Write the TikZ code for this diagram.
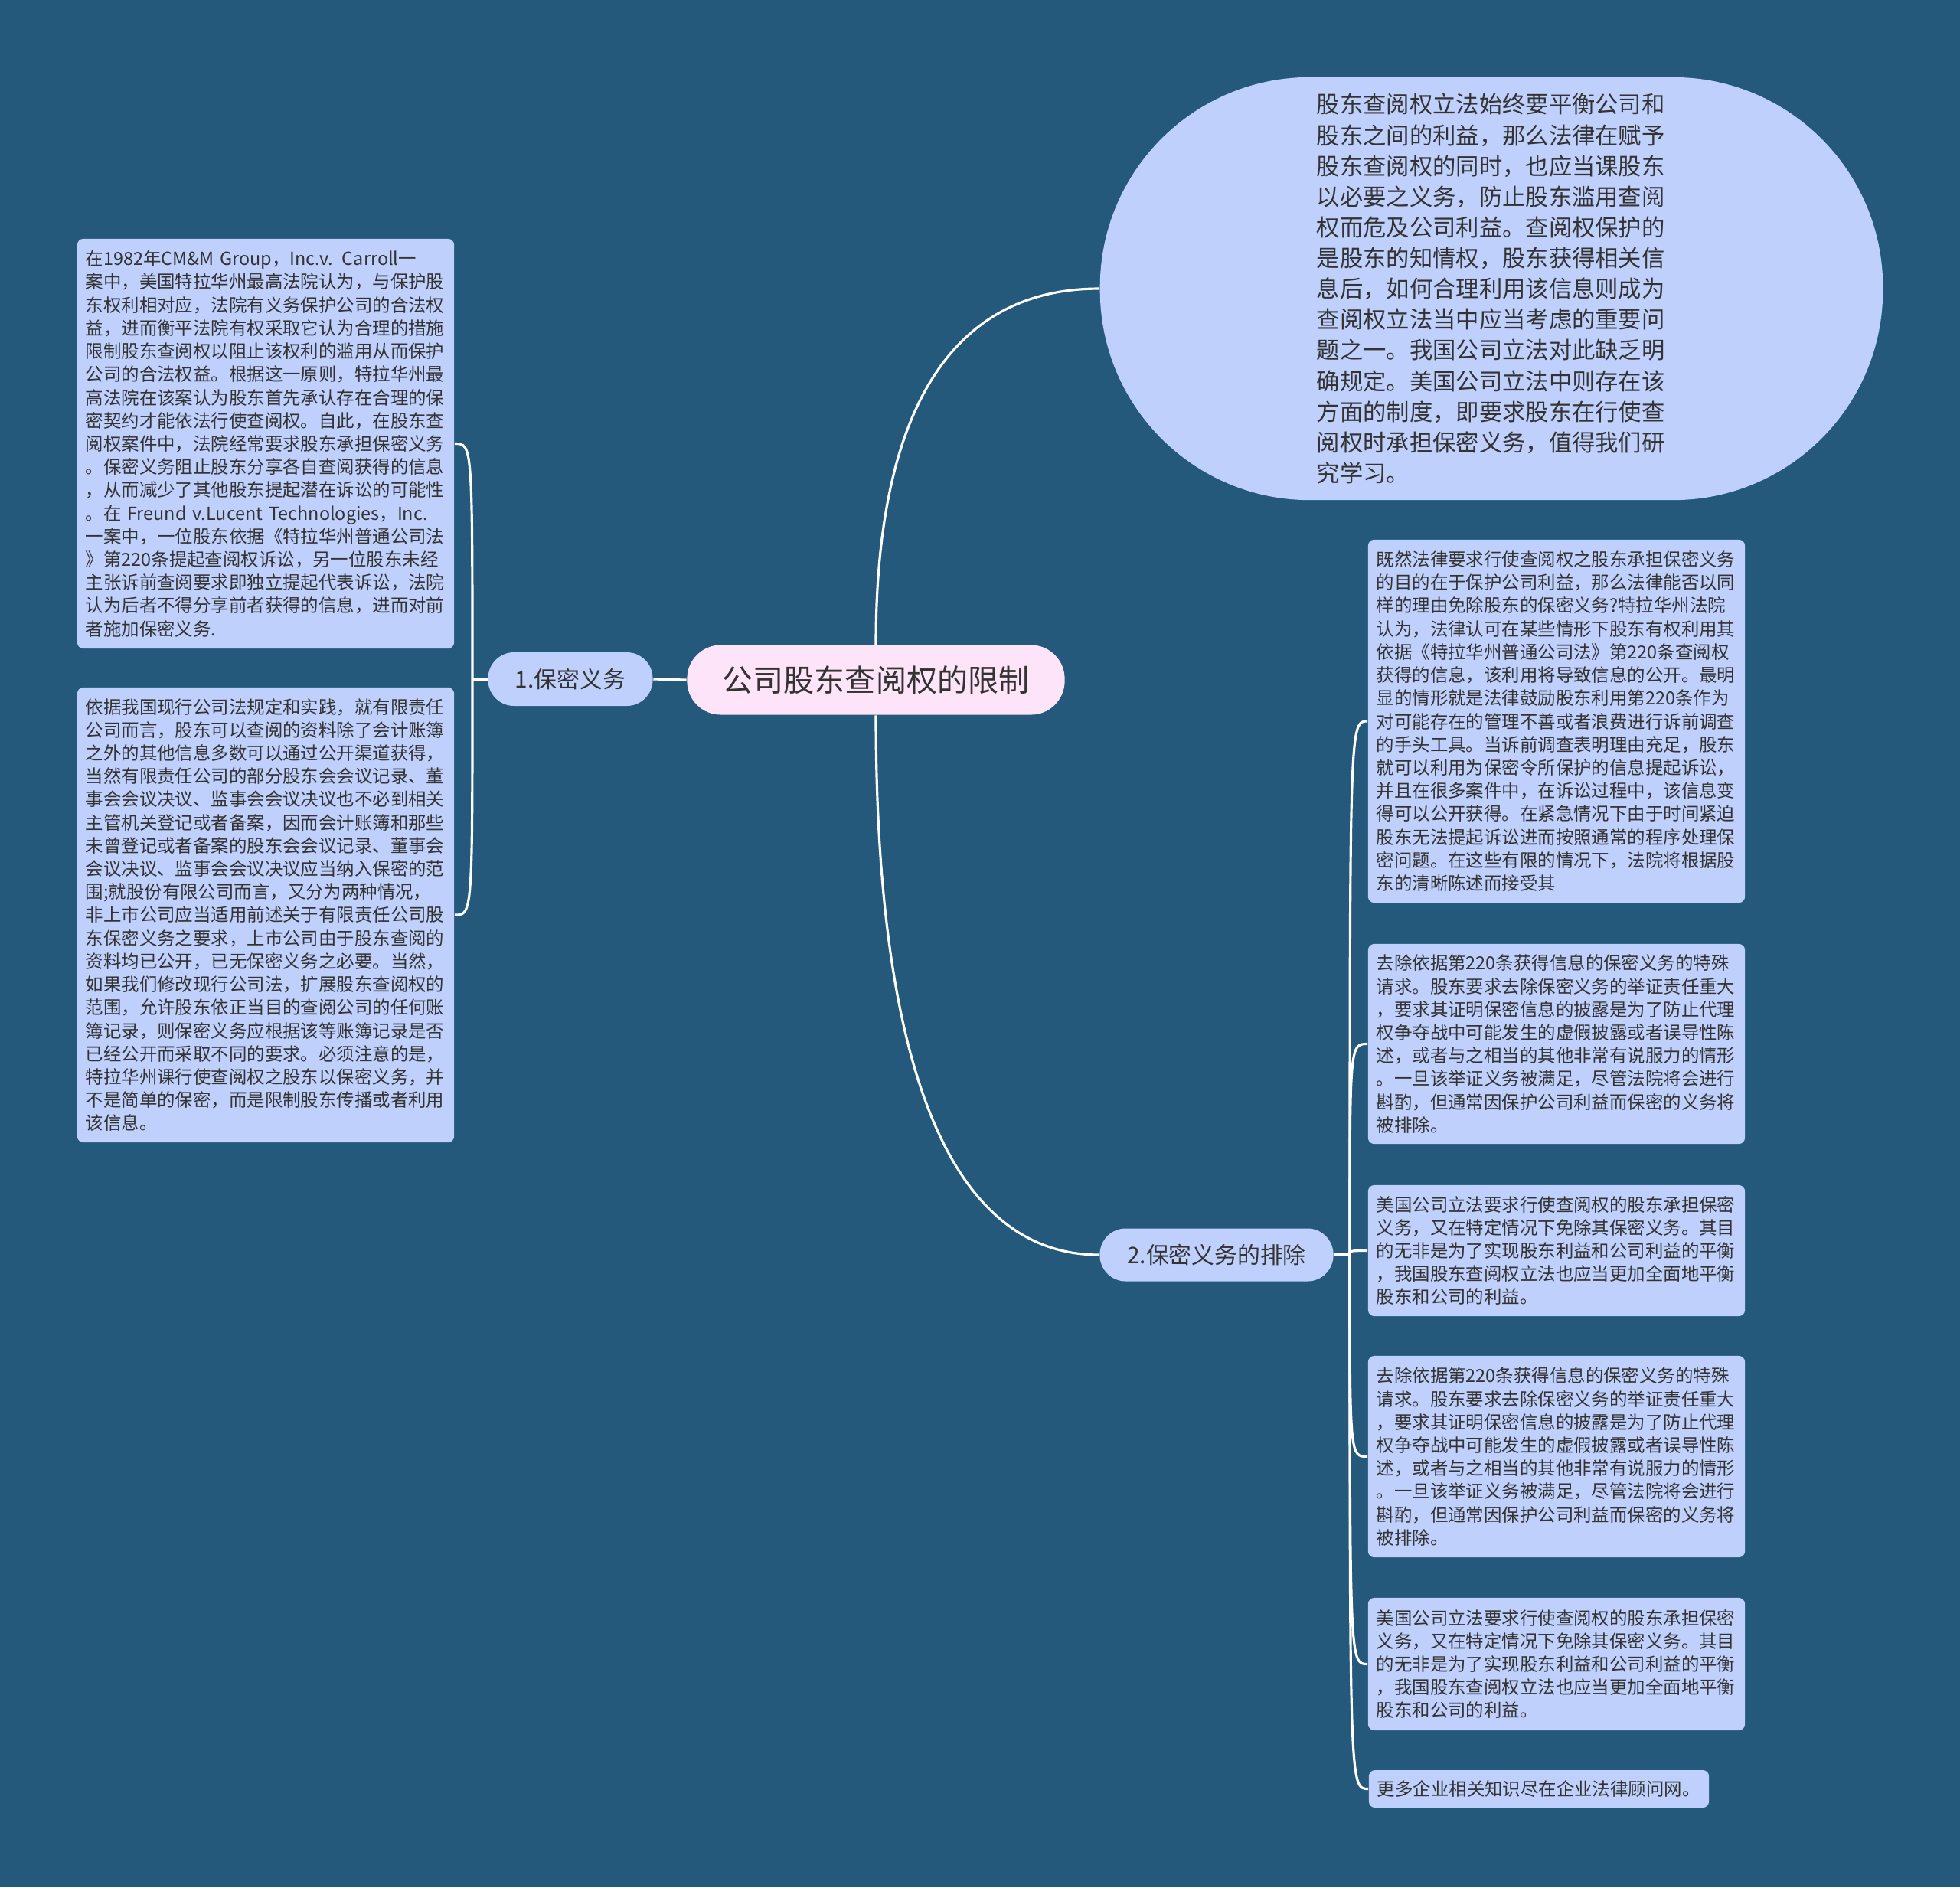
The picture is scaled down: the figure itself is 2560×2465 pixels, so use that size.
\documentclass[tikz,border=0pt]{standalone}
\usepackage{fontspec}
\setmainfont{Noto Sans CJK SC}
\usetikzlibrary{calc}

\definecolor{bgblue}{HTML}{24597B}
\definecolor{leafblue}{HTML}{BED0FB}
\definecolor{rootpink}{HTML}{FDE4F8}
\definecolor{inkgray}{HTML}{333333}

\tikzset{
    link/.style={white, line width=0.9pt},
    leaf/.style={fill=leafblue, text=inkgray, rounded corners=2.3pt, align=left,
        text width=4.70cm, inner xsep=0.11cm, inner ysep=0pt,
        font=\fontsize{6.66pt}{8.59pt}\selectfont},
    branch/.style={fill=leafblue, text=inkgray, rounded corners=0.34cm,
        inner sep=0pt, font=\fontsize{8.48pt}{10pt}\selectfont},
}

\begin{document}
\begin{tikzpicture}[x=0.01cm, y=-0.01cm]
    % Background, one unit is one pixel of the page
    \fill[bgblue] (0,0) rectangle (2560,2465);

    % Central topic and its two branches
    \node[fill=rootpink, text=inkgray, rounded corners=0.44cm, inner sep=0pt,
        minimum width=4.93cm, minimum height=0.91cm,
        font=\fontsize{11.38pt}{13pt}\selectfont] (root) at (1144,888) {公司股东查阅权的限制};
    \node[branch, minimum width=2.15cm, minimum height=0.70cm] (duty) at (745,887) {1.保密义务};
    \node[branch, minimum width=3.05cm, minimum height=0.69cm] (waiver) at (1589,1639) {2.保密义务的排除};

    % The big oval summary
    \node[fill=leafblue, text=inkgray, rounded corners=2.74cm, minimum width=10.22cm,
        minimum height=5.52cm, align=left, text width=4.56cm,
        font=\fontsize{8.62pt}{11.41pt}\selectfont] (oval) at (1948,377)
        {股东查阅权立法始终要平衡公司和\\股东之间的利益，那么法律在赋予\\股东查阅权的同时，也应当课股东\\以必要之义务，防止股东滥用查阅\\权而危及公司利益。查阅权保护的\\是股东的知情权，股东获得相关信\\息后，如何合理利用该信息则成为\\查阅权立法当中应当考虑的重要问\\题之一。我国公司立法对此缺乏明\\确规定。美国公司立法中则存在该\\方面的制度，即要求股东在行使查\\阅权时承担保密义务，值得我们研\\究学习。};

    % Leaves of the first branch
    \node[leaf, minimum height=5.35cm] (l1) at (347,579.5)
        {在1982年CM\&M Group，Inc.v. Carroll一\\案中，美国特拉华州最高法院认为，与保护股\\东权利相对应，法院有义务保护公司的合法权\\益，进而衡平法院有权采取它认为合理的措施\\限制股东查阅权以阻止该权利的滥用从而保护\\公司的合法权益。根据这一原则，特拉华州最\\高法院在该案认为股东首先承认存在合理的保\\密契约才能依法行使查阅权。自此，在股东查\\阅权案件中，法院经常要求股东承担保密义务\\。保密义务阻止股东分享各自查阅获得的信息\\，从而减少了其他股东提起潜在诉讼的可能性\\。在 Freund v.Lucent Technologies，Inc.\\一案中，一位股东依据《特拉华州普通公司法\\》第220条提起查阅权诉讼，另一位股东未经\\主张诉前查阅要求即独立提起代表诉讼，法院\\认为后者不得分享前者获得的信息，进而对前\\者施加保密义务.};
    \node[leaf, minimum height=5.94cm] (l2) at (347,1195)
        {依据我国现行公司法规定和实践，就有限责任\\公司而言，股东可以查阅的资料除了会计账簿\\之外的其他信息多数可以通过公开渠道获得，\\当然有限责任公司的部分股东会会议记录、董\\事会会议决议、监事会会议决议也不必到相关\\主管机关登记或者备案，因而会计账簿和那些\\未曾登记或者备案的股东会会议记录、董事会\\会议决议、监事会会议决议应当纳入保密的范\\围;就股份有限公司而言，又分为两种情况，\\非上市公司应当适用前述关于有限责任公司股\\东保密义务之要求，上市公司由于股东查阅的\\资料均已公开，已无保密义务之必要。当然，\\如果我们修改现行公司法，扩展股东查阅权的\\范围，允许股东依正当目的查阅公司的任何账\\簿记录，则保密义务应根据该等账簿记录是否\\已经公开而采取不同的要求。必须注意的是，\\特拉华州课行使查阅权之股东以保密义务，并\\不是简单的保密，而是限制股东传播或者利用\\该信息。};

    % Leaves of the second branch
    \node[leaf, minimum height=4.74cm] (r1) at (2033,942)
        {既然法律要求行使查阅权之股东承担保密义务\\的目的在于保护公司利益，那么法律能否以同\\样的理由免除股东的保密义务?特拉华州法院\\认为，法律认可在某些情形下股东有权利用其\\依据《特拉华州普通公司法》第220条查阅权\\获得的信息，该利用将导致信息的公开。最明\\显的情形就是法律鼓励股东利用第220条作为\\对可能存在的管理不善或者浪费进行诉前调查\\的手头工具。当诉前调查表明理由充足，股东\\就可以利用为保密令所保护的信息提起诉讼，\\并且在很多案件中，在诉讼过程中，该信息变\\得可以公开获得。在紧急情况下由于时间紧迫\\股东无法提起诉讼进而按照通常的程序处理保\\密问题。在这些有限的情况下，法院将根据股\\东的清晰陈述而接受其};
    \node[leaf, minimum height=2.61cm] (r2) at (2033,1363.5)
        {去除依据第220条获得信息的保密义务的特殊\\请求。股东要求去除保密义务的举证责任重大\\，要求其证明保密信息的披露是为了防止代理\\权争夺战中可能发生的虚假披露或者误导性陈\\述，或者与之相当的其他非常有说服力的情形\\。一旦该举证义务被满足，尽管法院将会进行\\斟酌，但通常因保护公司利益而保密的义务将\\被排除。};
    \node[leaf, minimum height=1.71cm] (r3) at (2033,1633.5)
        {美国公司立法要求行使查阅权的股东承担保密\\义务，又在特定情况下免除其保密义务。其目\\的无非是为了实现股东利益和公司利益的平衡\\，我国股东查阅权立法也应当更加全面地平衡\\股东和公司的利益。};
    \node[leaf, minimum height=2.63cm] (r4) at (2033,1902.5)
        {去除依据第220条获得信息的保密义务的特殊\\请求。股东要求去除保密义务的举证责任重大\\，要求其证明保密信息的披露是为了防止代理\\权争夺战中可能发生的虚假披露或者误导性陈\\述，或者与之相当的其他非常有说服力的情形\\。一旦该举证义务被满足，尽管法院将会进行\\斟酌，但通常因保护公司利益而保密的义务将\\被排除。};
    \node[leaf, minimum height=1.73cm] (r5) at (2033,2173.5)
        {美国公司立法要求行使查阅权的股东承担保密\\义务，又在特定情况下免除其保密义务。其目\\的无非是为了实现股东利益和公司利益的平衡\\，我国股东查阅权立法也应当更加全面地平衡\\股东和公司的利益。};
    \node[leaf, text width=4.22cm, minimum height=0.49cm] (r6) at (2010,2336.5)
        {更多企业相关知识尽在企业法律顾问网。};

    % Root to the oval and the branches
    \draw[link] (root.west) -- (duty.east);
    \draw[link] (root.north) .. controls ($(root.north)!0.65!(root.north |- oval.west)$)
        and ($(root.north |- oval.west)!0.33!(oval.west)$) .. (oval.west);
    \draw[link] (root.south) .. controls ($(root.south)!0.65!(root.south |- waiver.west)$)
        and ($(root.south |- waiver.west)!0.33!(waiver.west)$) .. (waiver.west);

    % Brackets from the branches to their leaves
    \coordinate (jl) at (617,887);
    \coordinate (jr) at (1763,1639);
    \draw[link] (duty.west) -- (jl);
    \draw[link] (waiver.east) -- (jr);
    \foreach \leafname in {l1,l2}
        \draw[link] (jl) .. controls (jl |- \leafname.east) .. (\leafname.east);
    \foreach \leafname in {r1,r2,r3,r4,r5,r6}
        \draw[link] (jr) .. controls (jr |- \leafname.west) .. (\leafname.west);
\end{tikzpicture}
\end{document}
